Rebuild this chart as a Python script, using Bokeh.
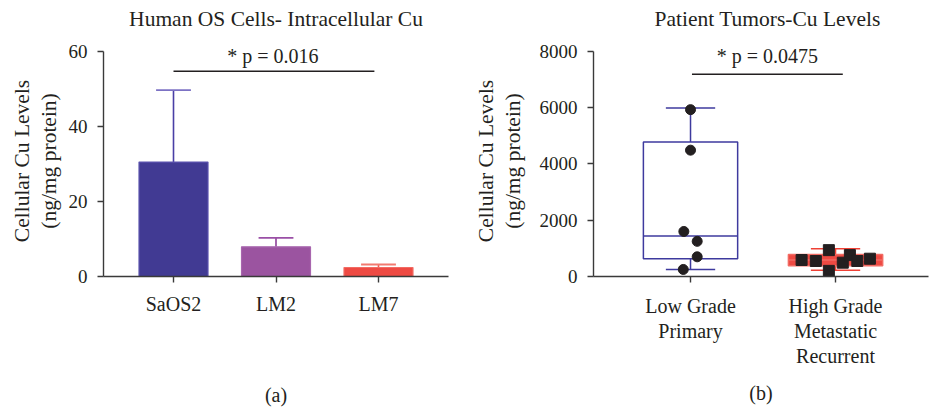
from bokeh.plotting import figure
from bokeh.layouts import row
from bokeh.models import Range1d, FixedTicker, Label, Title
from bokeh.embed import file_html
from bokeh.resources import INLINE
import numpy as np

FONT = "Liberation Serif"
TXT = "#231F20"
AXC = "#3a3a3a"

# ---------------- Panel (a) data ----------------
cell_lines = ["SaOS2", "LM2", "LM7"]
cu_mean = [30.5, 7.9, 2.4]
cu_err = [19.2, 2.4, 0.8]
a_title = "Human OS Cells- Intracellular Cu"
a_pval = "* p = 0.016"
a_y_ticks = [0, 20, 40, 60]

# ---------------- Panel (b) data ----------------
groups = ["Low Grade\nPrimary", "High Grade\nMetastatic\nRecurrent"]
low_values = [5930, 4490, 1600, 1250, 700, 250]
low_jitter = [0.0, 0.0, -0.046, 0.046, 0.046, -0.05]
high_values = [586, 551, 937, 200, 491, 761, 551, 632]
high_jitter = [-0.234, -0.136, -0.046, -0.046, 0.05, 0.099, 0.15, 0.237]
box_q1 = [632, 380]
box_median = [1440, 590]
box_q3 = [4782, 780]
whisker_lo = [245, 220]
whisker_hi = [5988, 990]
b_title = "Patient Tumors-Cu Levels"
b_pval = "* p = 0.0475"
b_y_ticks = [0, 2000, 4000, 6000, 8000]

ylabel = "Cellular Cu Levels\n(ng/mg protein)"

bar_fill = ["#413A93", "#9B54A0", "#EE4A43"]
bar_line = ["#5A52AE", "#A866AE", "#F26B63"]
err_line = ["#4A3FA6", "#8C3F98", "#EE5A50"]
cap_line = ["#7C72C4", "#9A4FA6", "#F27A70"]


def style(p, title_text, y_top, align="center", offset=0):
    p.outline_line_color = None
    p.xgrid.grid_line_color = None
    p.ygrid.grid_line_color = None
    p.background_fill_color = "white"
    p.border_fill_color = "white"
    for ax in p.axis:
        ax.axis_line_color = AXC
        ax.axis_line_width = 1.4
        ax.major_tick_line_color = AXC
        ax.major_tick_line_width = 1.4
        ax.major_tick_out = 6
        ax.major_tick_in = 0
        ax.minor_tick_line_color = None
        ax.major_label_text_font = FONT
        ax.major_label_text_font_size = "19px"
        ax.major_label_text_color = TXT
        ax.axis_label_text_font = FONT
        ax.axis_label_text_font_size = "20px"
        ax.axis_label_text_font_style = "normal"
        ax.axis_label_text_color = TXT
    p.xaxis.major_label_text_font_size = "20px"
    p.yaxis.major_label_standoff = 10
    p.xaxis.major_label_standoff = 10
    p.yaxis.bounds = (0, y_top)
    p.yaxis.axis_label = ylabel
    p.yaxis.axis_label_text_font_size = "21.5px"
    p.yaxis.axis_label_text_line_height = 1.1
    p.yaxis.axis_label_standoff = 5
    # spacer between frame and title, then the title itself
    p.add_layout(Title(text="\u00a0", text_font_size="1px", standoff=12), "above")
    p.add_layout(Title(text=title_text, text_font=FONT, text_font_size="21.5px",
                       text_font_style="normal", text_color=TXT, align=align,
                       offset=offset, standoff=0), "above")


# ---------------- Panel (a) ----------------
pa = figure(width=464, height=408, x_range=Range1d(0.317, 3.683), y_range=Range1d(0, 61.58),
            output_backend="svg", toolbar_location=None, title=None,
            min_border_left=103, min_border_right=16, min_border_top=45, min_border_bottom=129)
xa = np.arange(1, len(cell_lines) + 1)
mean = np.array(cu_mean)
err = np.array(cu_err)
pa.segment(x0=xa, y0=mean, x1=xa, y1=mean + err, line_color=err_line, line_width=1.6)
pa.segment(x0=xa - 0.17, y0=mean + err, x1=xa + 0.17, y1=mean + err, line_color=cap_line, line_width=1.8)
pa.vbar(x=xa, top=mean, bottom=0, width=0.673, fill_color=bar_fill, line_color=bar_line, line_width=1.2)
pa.segment(x0=[1.0], y0=[54.7], x1=[2.96], y1=[54.7], line_color=TXT, line_width=1.5)
pa.add_layout(Label(x=1.97, y=58.68, text=a_pval, text_align="center", text_baseline="alphabetic",
                    text_font=FONT, text_font_size="20px", text_color=TXT))
style(pa, a_title, a_y_ticks[-1])
pa.yaxis.ticker = FixedTicker(ticks=a_y_ticks)
pa.xaxis.ticker = FixedTicker(ticks=list(xa))
pa.xaxis.major_label_overrides = {int(i): n for i, n in zip(xa, cell_lines)}
pa.xaxis.axis_label = "(a)"
pa.xaxis.axis_label_standoff = 66

# ---------------- Panel (b) ----------------
pb = figure(width=465, height=408, x_range=Range1d(0.331, 2.641), y_range=Range1d(0, 8210),
            output_backend="svg", toolbar_location=None, title=None,
            min_border_left=129, min_border_right=1, min_border_top=45, min_border_bottom=129)
xb = np.arange(1, len(groups) + 1)
q1 = np.array(box_q1); q3 = np.array(box_q3); med = np.array(box_median)
lo = np.array(whisker_lo); hi = np.array(whisker_hi)
box_line = ["#3E3A9E", "#F26B63"]
box_fill = ["white", "#EE4A43"]
whisk = ["#3E3A9E", "#EE4035"]
pb.segment(x0=xb, y0=q3, x1=xb, y1=hi, line_color=whisk, line_width=1.5)
pb.segment(x0=xb, y0=q1, x1=xb, y1=lo, line_color=whisk, line_width=1.5)
pb.segment(x0=xb - 0.17, y0=hi, x1=xb + 0.17, y1=hi, line_color=whisk, line_width=1.5)
pb.segment(x0=xb - 0.17, y0=lo, x1=xb + 0.17, y1=lo, line_color=whisk, line_width=1.5)
pb.quad(left=xb - 0.325, right=xb + 0.325, bottom=q1, top=q3, fill_color=box_fill,
        line_color=box_line, line_width=1.5)
pb.segment(x0=xb - 0.325, y0=med, x1=xb + 0.325, y1=med, line_color=box_line, line_width=1.5)
pb.scatter(x=1 + np.array(low_jitter), y=low_values, marker="circle", size=10,
           fill_color=TXT, line_color=TXT)
pb.scatter(x=2 + np.array(high_jitter), y=high_values, marker="square", size=11,
           fill_color=TXT, line_color=TXT)
pb.segment(x0=[1.01], y0=[7190], x1=[2.05], y1=[7190], line_color=TXT, line_width=1.5)
pb.add_layout(Label(x=1.53, y=7825, text=b_pval, text_align="center", text_baseline="alphabetic",
                    text_font=FONT, text_font_size="20px", text_color=TXT))
style(pb, b_title, b_y_ticks[-1], align="left", offset=61)
pb.yaxis.ticker = FixedTicker(ticks=b_y_ticks)
pb.yaxis.axis_label_standoff = 12
pb.xaxis.ticker = FixedTicker(ticks=list(xb))
pb.xaxis.major_label_overrides = {int(i): n for i, n in zip(xb, groups)}
pb.xaxis.major_label_text_line_height = 1.15
pb.xaxis.major_label_standoff = 12
pb.xaxis.axis_label = "(b)"
pb.xaxis.axis_label_standoff = 12

layout = row(pa, pb)
open("out.html", "w").write(file_html(layout, INLINE))
